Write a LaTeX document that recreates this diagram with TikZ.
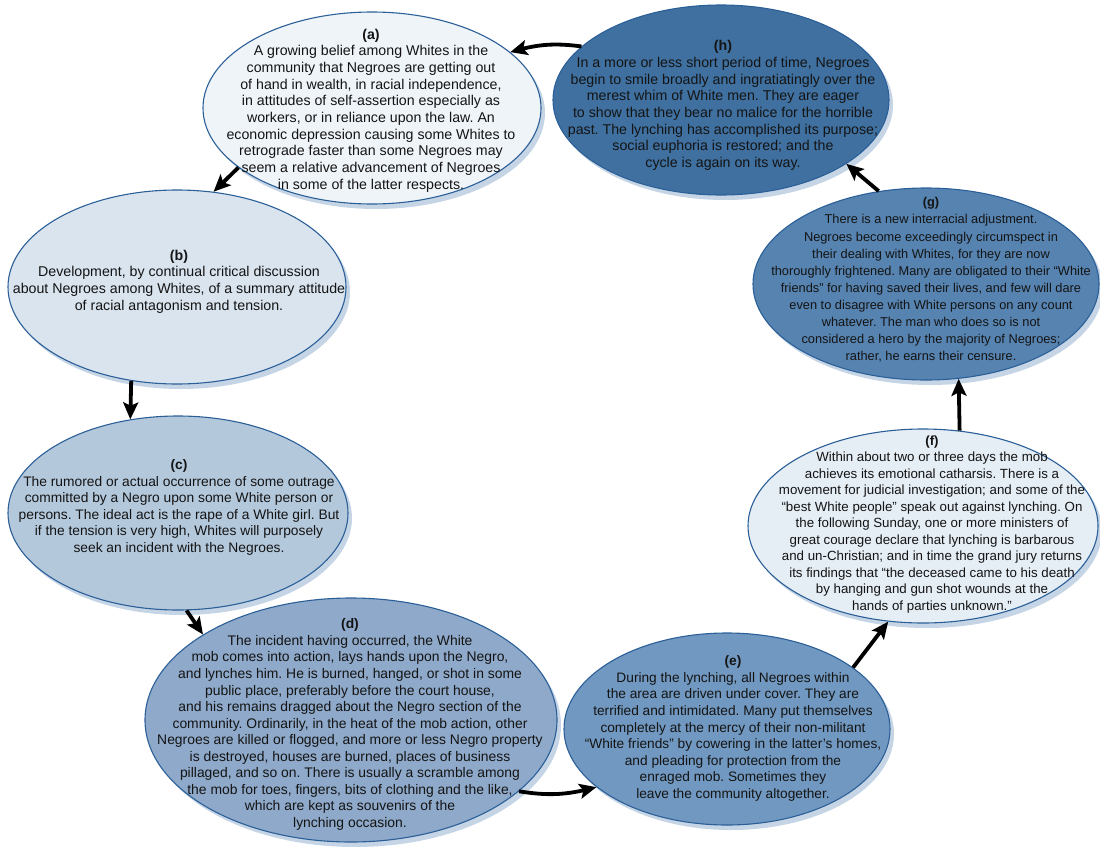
\documentclass[tikz,border=0pt]{standalone}
\usepackage{fontspec}
\setmainfont{Liberation Sans}
\usetikzlibrary{shapes.geometric,shadows,arrows.meta,bending}
\definecolor{edgec}{HTML}{2B5F98}
\definecolor{shadowc}{HTML}{C6D5E6}
\definecolor{textc}{HTML}{141414}
\definecolor{fa}{HTML}{EFF4F9}
\definecolor{fb}{HTML}{D9E4EF}
\definecolor{fc}{HTML}{B4C8DC}
\definecolor{fd}{HTML}{8EA9C9}
\definecolor{fe}{HTML}{7198C0}
\definecolor{ff}{HTML}{E5EDF5}
\definecolor{fg}{HTML}{5683B0}
\definecolor{fh}{HTML}{3F70A0}
\frenchspacing
\begin{document}
\begin{tikzpicture}[x=1pt,y=1pt,
  stage/.style={ellipse, draw=edgec, line width=1.1pt, inner sep=0pt,
    drop shadow={shadow xshift=4pt,shadow yshift=-5pt,fill=shadowc,opacity=1}},
  stagetext/.style={align=center, text=textc, inner sep=0pt,
    font=\fontsize{14.2}{16.7}\selectfont},
  flow/.style={-{Stealth[length=17pt,width=15pt,inset=3.5pt]}, line width=3.8pt, black}]
\useasboundingbox (0,0) rectangle (1100,-846);

% ellipses
\node[stage, fill=fa, minimum width=338pt, minimum height=192pt] (A) at (372,-108) {};
\node[stage, fill=fh, minimum width=336pt, minimum height=190pt] (H) at (721,-100) {};
\node[stage, fill=fb, minimum width=338pt, minimum height=194pt] (B) at (177,-287) {};
\node[stage, fill=fc, minimum width=340pt, minimum height=194pt] (C) at (178,-513) {};
\node[stage, fill=fd, minimum width=412pt, minimum height=244pt] (D) at (351,-720) {};
\node[stage, fill=fe, minimum width=326pt, minimum height=192pt] (E) at (727,-729) {};
\node[stage, fill=ff, minimum width=350pt, minimum height=194pt] (F) at (923,-526) {};
\node[stage, fill=fg, minimum width=346pt, minimum height=192pt] (G) at (926,-284) {};

% texts
\node[stagetext] (At) at (371,-110.5) {\textbf{(a)}\\
A growing belief among Whites in the\\
community that Negroes are getting out\\
of hand in wealth, in racial independence,\\
in attitudes of self-assertion especially as\\
workers, or in reliance upon the law. An\\
economic depression causing some Whites to\\
retrograde faster than some Negroes may\\
seem a relative advancement of Negroes\\
in some of the latter respects.};

\node[stagetext] (Ht) at (723,-105.5) {\textbf{(h)}\\
In a more or less short period of time, Negroes\\
begin to smile broadly and ingratiatingly over the\\
merest whim of White men. They are eager\\
to show that they bear no malice for the horrible\\
past. The lynching has accomplished its purpose;\\
social euphoria is restored; and the\\
cycle is again on its way.};

\node[stagetext] (Bt) at (179,-281.5) {\textbf{(b)}\\
Development, by continual critical discussion\\
about Negroes among Whites, of a summary attitude\\
of racial antagonism and tension.};

\node[stagetext, font=\fontsize{13.8}{16.6}\selectfont] (Ct) at (179,-507.5) {\textbf{(c)}\\
The rumored or actual occurrence of some outrage\\
committed by a Negro upon some White person or\\
persons. The ideal act is the rape of a White girl. But\\
if the tension is very high, Whites will purposely\\
seek an incident with the Negroes.};

\node[stagetext, font=\fontsize{13.9}{16.55}\selectfont] (Dt) at (350,-724.5) {\textbf{(d)}\\
The incident having occurred, the White\\
mob comes into action, lays hands upon the Negro,\\
and lynches him. He is burned, hanged, or shot in some\\
public place, preferably before the court house,\\
and his remains dragged about the Negro section of the\\
community. Ordinarily, in the heat of the mob action, other\\
Negroes are killed or flogged, and more or less Negro property\\
is destroyed, houses are burned, places of business\\
pillaged, and so on. There is usually a scramble among\\
the mob for toes, fingers, bits of clothing and the like,\\
which are kept as souvenirs of the\\
lynching occasion.};

\node[stagetext, font=\fontsize{13.7}{16.6}\selectfont] (Et) at (733,-728.5) {\textbf{(e)}\\
During the lynching, all Negroes within\\
the area are driven under cover. They are\\
terrified and intimidated. Many put themselves\\
completely at the mercy of their non-militant\\
``White friends'' by cowering in the latter's homes,\\
and pleading for protection from the\\
enraged mob. Sometimes they\\
leave the community altogether.};

\node[stagetext, font=\fontsize{13.3}{16.5}\selectfont] (Ft) at (932,-524.5) {\textbf{(f)}\\
Within about two or three days the mob\\
achieves its emotional catharsis. There is a\\
movement for judicial investigation; and some of the\\
``best White people'' speak out against lynching. On\\
the following Sunday, one or more ministers of\\
great courage declare that lynching is barbarous\\
and un-Christian; and in time the grand jury returns\\
its findings that ``the deceased came to his death\\
by hanging and gun shot wounds at the\\
hands of parties unknown.''};

\node[stagetext, font=\fontsize{12.8}{17.1}\selectfont] (Gt) at (931,-280) {\textbf{(g)}\\
There is a new interracial adjustment.\\
Negroes become exceedingly circumspect in\\
their dealing with Whites, for they are now\\
thoroughly frightened. Many are obligated to their ``White\\
friends'' for having saved their lives, and few will dare\\
even to disagree with White persons on any count\\
whatever. The man who does so is not\\
considered a hero by the majority of Negroes;\\
rather, he earns their censure.};

% connectors
\draw[flow] (H.159) to[bend right=12] (A.22);
\draw[flow] (A.204) -- (B.69);
\draw[flow] (B.244) -- (C.117);
\draw[flow] (C.275) -- (D.150);
\draw[flow] (D.337) to[bend right=12] (E.204);
\draw[flow] (E.26) -- (F.250);
\draw[flow] (F.69) -- (G.289);
\draw[flow] (G.117) -- (H.333);
\end{tikzpicture}
\end{document}
